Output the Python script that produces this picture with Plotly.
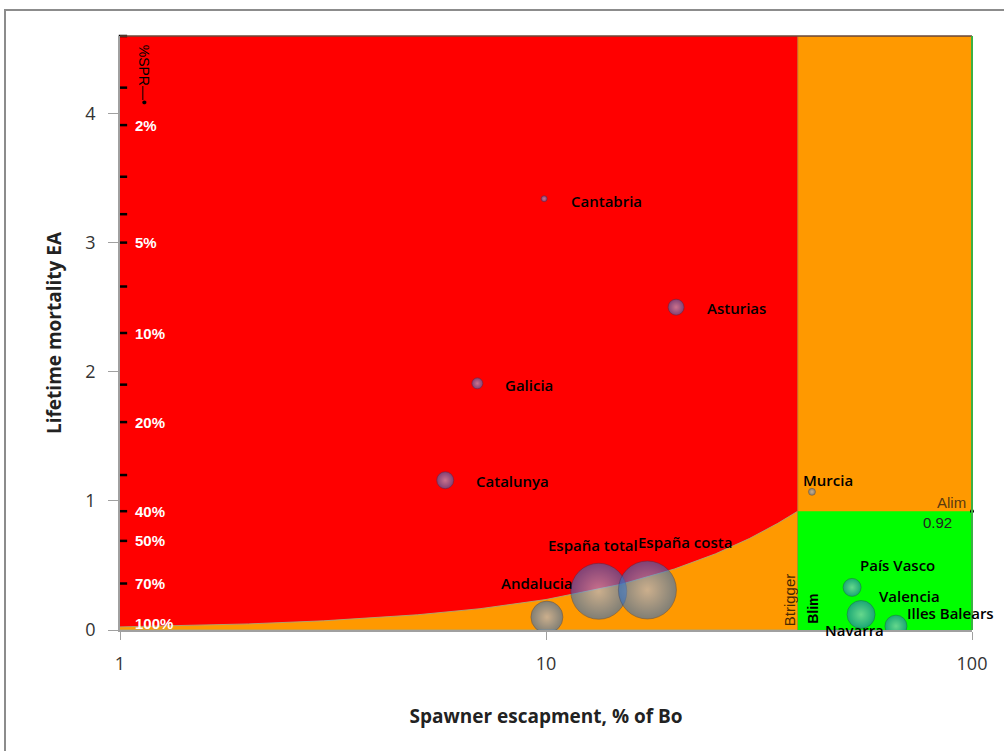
import math
import plotly.graph_objects as go

# ---------------- data ----------------
regions = ["Cantabria", "Asturias", "Galicia", "Catalunya", "Murcia",
           "País Vasco", "Valencia", "Illes Balears", "Navarra",
           "Andalucia", "España total", "España costa"]
escapement = [9.9, 20.2, 6.9, 5.8, 42.1, 52.3, 54.9, 66.3, 48.0, 10.05, 13.3, 17.3]
mortality = [3.34, 2.50, 1.91, 1.16, 1.07, 0.33, 0.12, 0.03, 0.0, 0.10, 0.30, 0.31]
bubble_size = [6, 16, 11, 17, 7, 18, 28, 22, 2, 32, 56, 58]

# label offsets (pixels) relative to the bubble centre
label_dx = [25, 29, 26, 29, -11, 6, 16, 9, -13, -48, -53, -11]
label_dy = [-2, -1, -2, -1, 12, 22, 19, 13, 0, 34, 46, 48]

# reference boundaries
b_trigger = 39.0
a_lim = 0.92
x_min, x_max = 1, 100
y_max = 4.6
curve_x = [1, 1.5, 2, 3, 5, 7, 10, 15, 20, 25, 30, 35, 39]
curve_y = [0.024, 0.035, 0.047, 0.071, 0.118, 0.165, 0.236, 0.354, 0.472, 0.59, 0.708, 0.826, 0.92]

spr_labels = ["2%", "5%", "10%", "20%", "40%", "50%", "70%", "100%"]
spr_label_y = [3.91, 3.0, 2.30, 1.61, 0.92, 0.69, 0.36, 0.05]
spr_tick_y = [4.6, 4.2, 3.91, 3.51, 3.22, 3.0, 2.66, 2.30, 1.90, 1.61, 1.20, 0.92, 0.69, 0.36]

x_ticks = [1, 10, 100]
y_ticks = [0, 1, 2, 3, 4]

RED = "#FF0000"
ORANGE = "#FF9900"
GREEN = "#00FF00"
LABEL_FONT = "Open Sans, DejaVu Sans"
SMALL_FONT = "Liberation Sans, Arial"

fig = go.Figure()

# red zone (whole left part)
fig.add_trace(go.Scatter(
    x=[x_min, b_trigger, b_trigger, x_min, x_min],
    y=[0, 0, y_max, y_max, 0],
    fill="toself", fillcolor=RED, mode="lines", line=dict(width=0),
    hoverinfo="skip", showlegend=False))
# orange under the curve
fig.add_trace(go.Scatter(
    x=curve_x + [b_trigger, x_min],
    y=curve_y + [0, 0],
    fill="toself", fillcolor=ORANGE, mode="lines",
    line=dict(width=1, color="rgba(170,170,120,0.9)"),
    hoverinfo="skip", showlegend=False))
# orange right block
fig.add_trace(go.Scatter(
    x=[b_trigger, x_max, x_max, b_trigger, b_trigger],
    y=[0, 0, y_max, y_max, 0],
    fill="toself", fillcolor=ORANGE, mode="lines",
    line=dict(width=1, color="rgba(180,110,40,0.8)"),
    hoverinfo="skip", showlegend=False))
# green block
fig.add_trace(go.Scatter(
    x=[b_trigger, x_max, x_max, b_trigger, b_trigger],
    y=[0, 0, a_lim, a_lim, 0],
    fill="toself", fillcolor=GREEN, mode="lines", line=dict(width=0),
    hoverinfo="skip", showlegend=False))

# %SPR small black dashes along left edge
fig.add_trace(go.Scatter(
    x=[1.016] * len(spr_tick_y), y=spr_tick_y, mode="markers",
    marker=dict(symbol="line-ew", size=6, line=dict(width=2.5, color="black")),
    hoverinfo="skip", showlegend=False, cliponaxis=False))

# Alim end point
fig.add_trace(go.Scatter(
    x=[x_max], y=[a_lim], mode="markers",
    marker=dict(size=4, color="black"), hoverinfo="skip",
    showlegend=False, cliponaxis=False))

# bubbles
fig.add_trace(go.Scatter(
    x=escapement, y=mortality, mode="markers", text=regions,
    marker=dict(size=bubble_size, sizemode="diameter",
                color="rgb(45,110,195)", opacity=0.6,
                gradient=dict(type="radial", color="rgb(170,190,235)"),
                line=dict(width=0.6, color="rgb(40,50,90)")),
    showlegend=False))

annotations = []
for name, xv, yv, dx, dy in zip(regions, escapement, mortality, label_dx, label_dy):
    annotations.append(dict(
        x=math.log10(xv), y=yv, xref="x", yref="y", text=name, showarrow=False,
        xanchor="left", yanchor="middle", xshift=dx, yshift=dy,
        font=dict(family=LABEL_FONT, size=15, color="black", weight=600)))

for lab, yv in zip(spr_labels, spr_label_y):
    annotations.append(dict(
        x=0, y=yv, xref="x", yref="y", text="<b>" + lab + "</b>", showarrow=False,
        xanchor="left", yanchor="middle", xshift=13,
        font=dict(family=SMALL_FONT, size=15, color="white")))

annotations.append(dict(
    x=0, y=4.3, xref="x", yref="y", text="%SPR\u2014\u2022", showarrow=False,
    textangle=90, xshift=24, font=dict(family=SMALL_FONT, size=14, color="black")))

annotations.append(dict(
    x=math.log10(b_trigger), y=0, xref="x", yref="y", text="Btrigger",
    showarrow=False, textangle=-90, xanchor="center", yanchor="bottom",
    xshift=-8, yshift=2,
    font=dict(family=SMALL_FONT, size=15, color="#4a2a00")))
annotations.append(dict(
    x=math.log10(b_trigger), y=0, xref="x", yref="y", text="<b>Blim</b>",
    showarrow=False, textangle=-90, xanchor="center", yanchor="bottom",
    xshift=15, yshift=4,
    font=dict(family=SMALL_FONT, size=14, color="black")))
annotations.append(dict(
    x=math.log10(x_max), y=a_lim, xref="x", yref="y", text="Alim",
    showarrow=False, xanchor="right", yanchor="bottom", xshift=-4, yshift=-2,
    font=dict(family=SMALL_FONT, size=15, color="#5a3a10")))
annotations.append(dict(
    x=math.log10(x_max), y=a_lim, xref="x", yref="y", text=str(a_lim),
    showarrow=False, xanchor="right", yanchor="top", xshift=-18, yshift=-1,
    font=dict(family=SMALL_FONT, size=15, color="#222")))

# plot-area geometry in pixels
L, R, T, B = 120, 972, 36, 630
W, H = 1004, 751

def px(x):
    return (x - L) / (R - L)

def py(y):
    return (B - y) / (B - T)

shapes = [
    # outer chart border
    dict(type="rect", xref="paper", yref="paper",
         x0=px(5), x1=px(1012), y0=py(760), y1=py(10),
         line=dict(color="#8c8c8c", width=2), layer="above"),
    # top frame line
    dict(type="line", xref="paper", yref="paper", x0=0, x1=1, y0=1, y1=1,
         line=dict(color="#6b4a3a", width=1.5), layer="above"),
    # right frame line
    dict(type="line", xref="paper", yref="paper", x0=1, x1=1, y0=0, y1=1,
         line=dict(color="#3cb043", width=2), layer="above"),
]

fig.update_layout(
    width=W, height=H,
    margin=dict(l=L, r=W - R, t=T, b=H - B),
    paper_bgcolor="white", plot_bgcolor="white",
    annotations=annotations, shapes=shapes,
    xaxis=dict(type="log", range=[0, 2], tickvals=x_ticks, ticktext=[str(v) for v in x_ticks],
               showgrid=False, zeroline=False, showline=True, linecolor="#a0a0a0", linewidth=1.5,
               ticks="outside", ticklen=8, tickcolor="#a0a0a0", ticklabelstandoff=9,
               tickfont=dict(family=LABEL_FONT, size=18, color="#333"),
               title=dict(text="<b>Spawner escapment, % of Bo</b>", standoff=35,
                          font=dict(family=LABEL_FONT, size=19, color="#222"))),
    yaxis=dict(range=[0, y_max], tickvals=y_ticks, showgrid=False, zeroline=False,
               showline=True, linecolor="#a0a0a0", linewidth=1.5,
               ticks="outside", ticklen=10, tickcolor="#a0a0a0", ticklabelstandoff=9,
               tickfont=dict(family=LABEL_FONT, size=18, color="#333"),
               title=dict(text="<b>Lifetime mortality EA</b>", standoff=19,
                          font=dict(family=LABEL_FONT, size=19, color="#222"))),
)

fig.write_html("out.html", config={"displayModeBar": False},
               post_script="document.body.style.margin='0';")
